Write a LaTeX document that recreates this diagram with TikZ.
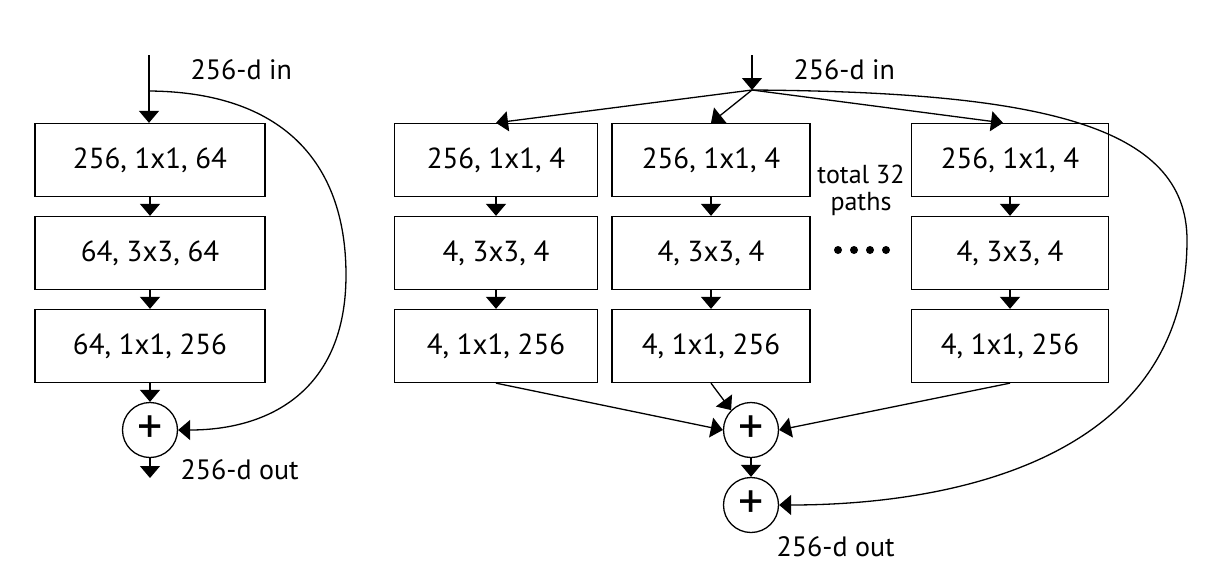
\documentclass[tikz,border=0pt]{standalone}
\usepackage{fontspec}
\setmainfont{PT Sans}
\usetikzlibrary{arrows.meta}
\begin{document}
\begin{tikzpicture}[x=1pt,y=-1pt,
  every path/.style={line width=1.3pt},
  box/.style={draw, line width=1.3pt, minimum height=73pt, inner sep=0pt, font=\fontsize{29}{32}\selectfont},
  sumnode/.style={draw, circle, line width=1.3pt, minimum size=55pt, inner sep=0pt, font=\fontsize{50}{50}\selectfont},
  lbl/.style={font=\fontsize{28}{30}\selectfont, inner sep=0pt},
  arr/.style={-{Triangle[length=12pt,width=20pt]}}
]
\useasboundingbox (0,0) rectangle (1224,576);
% ---------- left block ----------
\coordinate (Lin) at (149,55);
\coordinate (Lsplit) at (149,91);
\node[box, minimum width=230pt] (L1) at (150,160) {256, 1x1, 64};
\node[box, minimum width=230pt] (L2) at (150,253) {64, 3x3, 64};
\node[box, minimum width=230pt] (L3) at (150,346) {64, 1x1, 256};
\node[sumnode] (Ls) at (150,430) {\raisebox{1pt}{+}};
\coordinate (Lout) at (150,478);
\node[lbl, anchor=west] (Linl) at (190,70) {256-d in};
\node[lbl, anchor=west] (Loutl) at (180,470) {256-d out};
\draw[arr] (Lin) -- (L1.north -| Lin);
\draw[arr] (L1.south) -- (L2.north);
\draw[arr] (L2.south) -- (L3.north);
\draw[arr] (L3.south) -- (Ls.north);
\draw[arr] (Ls.south) -- (Lout);
\draw[arr] (Lsplit) .. controls (280,92) and (346,160) .. (346,275)
  .. controls (346,390) and (270,430) .. (Ls.east);
% ---------- right block ----------
\coordinate (Rin) at (752,55);
\coordinate (Rsplit) at (752,90);
\node[box, minimum width=203pt] (A1) at (496,160) {256, 1x1, 4};
\node[box, minimum width=203pt] (A2) at (496,253) {4, 3x3, 4};
\node[box, minimum width=203pt] (A3) at (496,346) {4, 1x1, 256};
\node[box, minimum width=198pt] (B1) at (711,160) {256, 1x1, 4};
\node[box, minimum width=198pt] (B2) at (711,253) {4, 3x3, 4};
\node[box, minimum width=198pt] (B3) at (711,346) {4, 1x1, 256};
\node[box, minimum width=197pt] (C1) at (1010,160) {256, 1x1, 4};
\node[box, minimum width=197pt] (C2) at (1010,253) {4, 3x3, 4};
\node[box, minimum width=197pt] (C3) at (1010,346) {4, 1x1, 256};
\node[sumnode] (S1) at (751,430) {\raisebox{1pt}{+}};
\node[sumnode] (S2) at (751,505) {\raisebox{1pt}{+}};
\node[lbl, anchor=west] (Rinl) at (793,70) {256-d in};
\node[lbl, anchor=west] (Routl) at (776,547) {256-d out};
\node[lbl, align=center, font=\fontsize{26}{27}\selectfont] (tot) at (861,190) {total 32\\paths};
\foreach \i/\xx in {1/838,2/854,3/870,4/886}
  \fill (\xx,250) circle (4pt);
\draw[arr] (Rin) -- (Rsplit);
\draw[arr] (Rsplit) -- (A1.north);
\draw[arr] (Rsplit) -- (B1.north);
\draw[arr] (Rsplit) -- (C1.north -| 1003,0);
\draw[arr] (A1.south) -- (A2.north);
\draw[arr] (A2.south) -- (A3.north);
\draw[arr] (B1.south) -- (B2.north);
\draw[arr] (B2.south) -- (B3.north);
\draw[arr] (C1.south) -- (C2.north);
\draw[arr] (C2.south) -- (C3.north);
\draw[arr] (A3.south) -- (S1.west);
\draw[arr] (B3.south) -- (S1.north west);
\draw[arr] (C3.south) -- (S1.east);
\draw[arr] (S1.south) -- (S2.north);
\draw[arr] (Rsplit) .. controls (1040,92) and (1187,125) .. (1187,240)
  .. controls (1187,460) and (950,505) .. (S2.east);
\end{tikzpicture}
\end{document}
